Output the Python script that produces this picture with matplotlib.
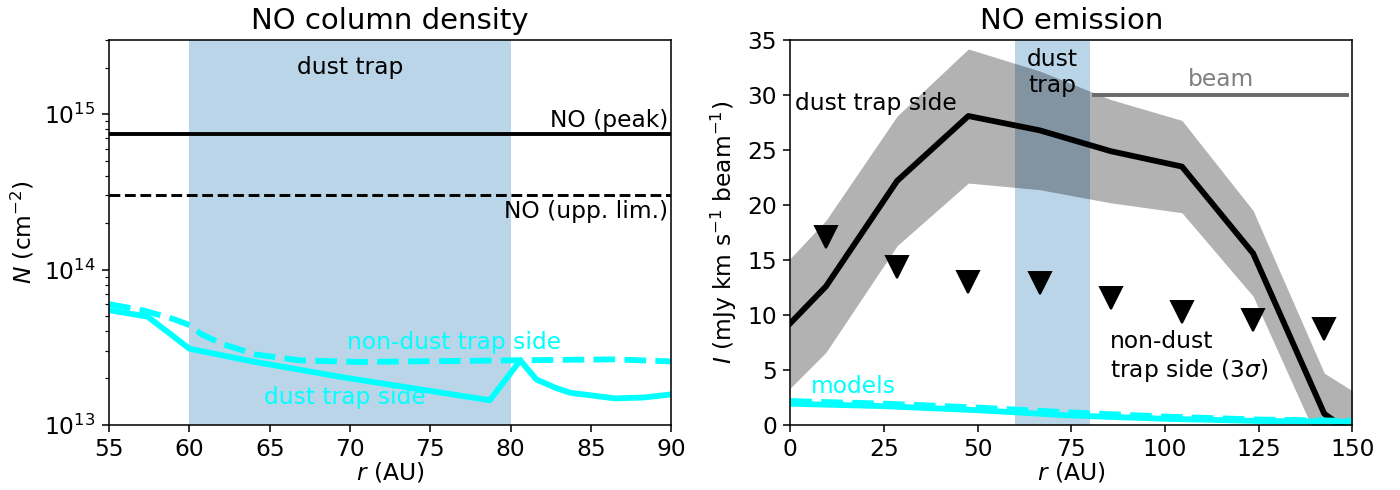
import matplotlib
matplotlib.use("Agg")
import matplotlib.pyplot as plt
import numpy as np

# ---------------- data ----------------
# Left panel: NO column density
N_peak = 7.5e14
N_upp = 3.0e14
r_dt = [55.0, 57.4, 60.0, 64.1, 69.6, 78.7, 80.6, 81.6, 82.8, 83.7, 86.5, 88.3, 90.0]
N_dt = [5.48e13, 4.97e13, 3.09e13, 2.54e13, 2.02e13, 1.44e13, 2.60e13, 1.96e13,
        1.73e13, 1.61e13, 1.48e13, 1.50e13, 1.57e13]
r_ndt = [55.0, 57.2, 59.0, 60.1, 60.7, 62.0, 64.1, 66.9, 70.6, 79.8, 86.5, 90.0]
N_ndt = [5.99e13, 5.43e13, 4.80e13, 4.35e13, 3.85e13, 3.33e13, 2.84e13, 2.60e13,
         2.54e13, 2.60e13, 2.64e13, 2.56e13]

# Right panel: NO emission
r_obs = [0, 9.5, 28.5, 47.5, 66.5, 85.5, 104.5, 123.5, 142.5, 150]
I_obs = [9.25, 12.6, 22.2, 28.1, 26.8, 24.9, 23.5, 15.6, 1.0, -0.8]
I_err = [5.9, 6.0, 5.9, 6.1, 5.4, 4.7, 4.2, 3.9, 3.7, 3.9]
r_lim = [9.5, 28.5, 47.5, 66.5, 85.5, 104.5, 123.5, 142.5]
I_lim = [17.1, 14.4, 13.0, 12.9, 11.5, 10.3, 9.5, 8.7]
r_mod = [0, 25, 50, 75, 100, 125, 150]
I_mod_dt = [1.92, 1.70, 1.33, 0.85, 0.55, 0.35, 0.28]
I_mod_ndt = [2.16, 1.93, 1.57, 1.12, 0.75, 0.48, 0.36]
beam_range = [81, 148.5]
beam_level = 30
trap_range = [60, 80]

plt.rcParams['font.size'] = 12

fig, (ax1, ax2) = plt.subplots(1, 2, figsize=(10, 3.5), dpi=140)
fig.subplots_adjust(left=0.078, right=0.966, bottom=0.133, top=0.918, wspace=0.212)

# ---------------- left panel ----------------
ax1.axvspan(trap_range[0], trap_range[1], color='tab:blue', alpha=0.3, lw=0)
ax1.axhline(N_peak, color='k', lw=2)
ax1.axhline(N_upp, color='k', lw=1.5, ls='--')
ax1.plot(r_dt, N_dt, color='cyan', lw=3)
ax1.plot(r_ndt, N_ndt, color='cyan', lw=3, ls='--')
ax1.set_yscale('log')
ax1.set_xlim(55, 90)
ax1.set_ylim(1e13, 3e15)
ax1.set_xticks(np.arange(55, 91, 5))
ax1.text(70, 2.0e15, 'dust trap', ha='center', va='center')
ax1.text(89.8, N_peak * 1.03, 'NO (peak)', ha='right', va='bottom')
ax1.text(89.8, N_upp * 0.93, 'NO (upp. lim.)', ha='right', va='top')
ax1.text(76.5, 3.4e13, 'non-dust trap side', color='cyan', ha='center', va='center')
ax1.text(69.7, 1.5e13, 'dust trap side', color='cyan', ha='center', va='center')
ax1.set_xlabel('$r$ (AU)', labelpad=-0.5)
ax1.set_ylabel('$N$ (cm$^{-2}$)')
ax1.set_title('NO column density', fontsize=15)

# ---------------- right panel ----------------
ax2.axvspan(trap_range[0], trap_range[1], color='tab:blue', alpha=0.3, lw=0)
I_obs_a = np.array(I_obs)
I_err_a = np.array(I_err)
ax2.fill_between(r_obs, I_obs_a - I_err_a, I_obs_a + I_err_a, color='k', alpha=0.3, lw=0)
ax2.plot(r_obs, I_obs, color='k', lw=3)
ax2.plot(r_lim, I_lim, ls='none', marker='v', ms=11, color='k')
ax2.plot(r_mod, I_mod_dt, color='cyan', lw=3)
ax2.plot(r_mod, I_mod_ndt, color='cyan', lw=3, ls='--')
ax2.plot(beam_range, [beam_level, beam_level], color='dimgray', lw=2)
ax2.text(115, 30.4, 'beam', color='gray', ha='center', va='bottom')
ax2.text(70, 34.3, 'dust\ntrap', ha='center', va='top')
ax2.text(1.2, 29.2, 'dust trap side', ha='left', va='center')
ax2.text(85.2, 6.2, 'non-dust\ntrap side (3$\\sigma$)', ha='left', va='center',
         multialignment='left')
ax2.text(5.4, 2.9, 'models', color='cyan', ha='left', va='baseline')
ax2.set_xlim(0, 150)
ax2.set_ylim(0, 35)
ax2.set_xticks(np.arange(0, 151, 25))
ax2.set_yticks(np.arange(0, 36, 5))
ax2.set_xlabel('$r$ (AU)', labelpad=-0.5)
ax2.set_ylabel('$I$ (mJy km s$^{-1}$ beam$^{-1}$)')
ax2.set_title('NO emission', fontsize=15)

fig.savefig('out.png', dpi=140)
